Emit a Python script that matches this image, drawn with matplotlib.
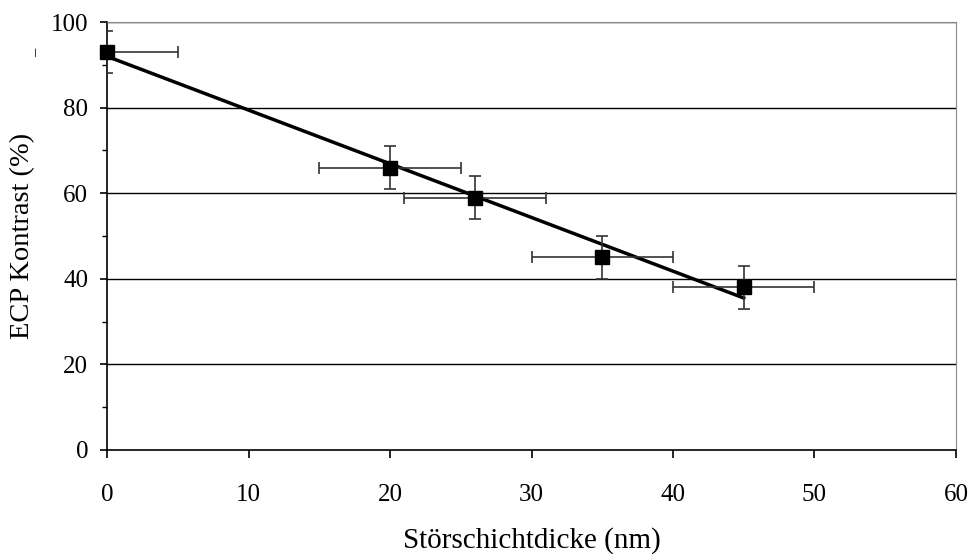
import numpy as np
from matplotlib import pyplot as plt
from matplotlib.ticker import MultipleLocator

# Messwerte
dicke = [0, 20, 26, 35, 45]           # Störschichtdicke (nm)
kontrast = [93, 66, 59, 45, 38]       # ECP Kontrast (%)
dicke_err = [5, 5, 5, 5, 5]
kontrast_err = [5, 5, 5, 5, 5]

# Ausgleichsgerade (Endpunkte aus dem Bild)
fit_x = [0, 45]
fit_y = [92, 35.5]

plt.rcParams["font.family"] = ["Liberation Serif", "DejaVu Serif"]

fig = plt.figure(figsize=(9.73, 5.54), dpi=100)
ax = fig.add_axes([0.110, 0.188, 0.8725, 0.772])

for y in range(20, 101, 20):
    ax.axhline(y, color="black", lw=1.0, zorder=1)

ax.plot(fit_x, fit_y, color="black", lw=2.5, zorder=3, clip_on=False)
ax.errorbar(dicke, kontrast, xerr=dicke_err, yerr=kontrast_err, fmt="none",
            ecolor="#333333", elinewidth=1.2, capsize=4, capthick=1.2, zorder=4)
# Marker nicht abschneiden (Punkt bei x=0)
ax.plot(dicke, kontrast, "s", color="black", ms=10, zorder=5, clip_on=False)

ax.set_xlim(0, 60)
ax.set_ylim(0, 100)
ax.xaxis.set_major_locator(MultipleLocator(10))
ax.yaxis.set_major_locator(MultipleLocator(20))
ax.yaxis.set_minor_locator(MultipleLocator(10))
ax.tick_params(axis="x", which="major", direction="out", length=5.8,
               width=1.2, labelsize=18, pad=19)
ax.tick_params(axis="y", which="major", direction="out", length=5,
               width=1.2, labelsize=18, pad=8.6)
ax.tick_params(axis="y", which="minor", direction="out", length=3.6, width=1)

for side in ("top", "right"):
    ax.spines[side].set_color("#888888")
for side in ("left", "bottom"):
    ax.spines[side].set_linewidth(1.2)

ax.set_xlabel("Störschichtdicke (nm)", fontsize=21, labelpad=15)
ax.set_ylabel("ECP Kontrast (%)", fontsize=20.5, labelpad=11)
fig.text(0.037, 0.905, "–", rotation=90, fontsize=12, ha="center", va="center")

fig.savefig("out.png", dpi=100)
